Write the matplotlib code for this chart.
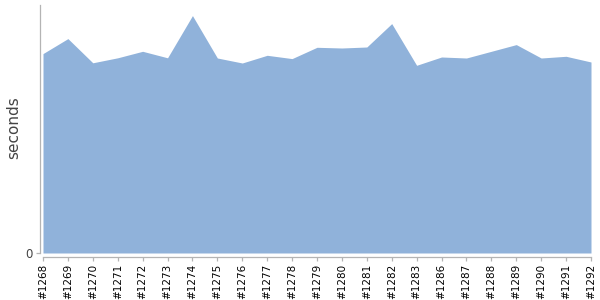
import matplotlib
matplotlib.use("Agg")
import matplotlib.pyplot as plt
import numpy as np

builds = ["#1268", "#1269", "#1270", "#1271", "#1272", "#1273", "#1274", "#1275",
          "#1276", "#1277", "#1278", "#1279", "#1280", "#1281", "#1282", "#1283",
          "#1286", "#1287", "#1288", "#1289", "#1290", "#1291", "#1292"]
seconds = [199.4, 214.4, 190.2, 195.2, 201.7, 195.2, 237.4, 195.0,
           190.0, 197.7, 194.4, 205.7, 205.0, 206.0, 229.4, 187.7,
           196.0, 195.0, 201.7, 208.4, 195.0, 196.7, 191.0]

fig = plt.figure(figsize=(6, 3), dpi=100)
W, H = 600, 300
ax = fig.add_axes([43 / W, 1 - 253 / H, (591 - 43) / W, (253 - 5) / H])

x = np.arange(len(builds))
ax.fill_between(x, 0, seconds, color="#90b2da", linewidth=0)
ax.set_xlim(0, len(builds) - 1)
ax.set_ylim(0, 248)

for s in ["top", "right"]:
    ax.spines[s].set_visible(False)
ax.spines["left"].set_position(("outward", 2.2))
ax.spines["bottom"].set_position(("outward", 3.0))
for s in ["left", "bottom"]:
    ax.spines[s].set_color("#b4b4b4")
    ax.spines[s].set_linewidth(0.9)

ax.set_yticks([0])
ax.set_yticklabels(["0"], fontsize=8.5, color="#444444")
ax.set_xticks(x)
ax.set_xticklabels(builds, rotation=90, fontsize=7.5, color="#000000")
ax.tick_params(axis="both", colors="#b4b4b4", length=3, width=0.9, pad=2)
for lab in ax.get_xticklabels():
    lab.set_color("#000000")
for lab in ax.get_yticklabels():
    lab.set_color("#444444")

fig.text(13.5 / W, 1 - 128 / H, "seconds", rotation=90, ha="center", va="center",
         fontsize=11, color="#444444")

fig.savefig("out.png", dpi=100)
